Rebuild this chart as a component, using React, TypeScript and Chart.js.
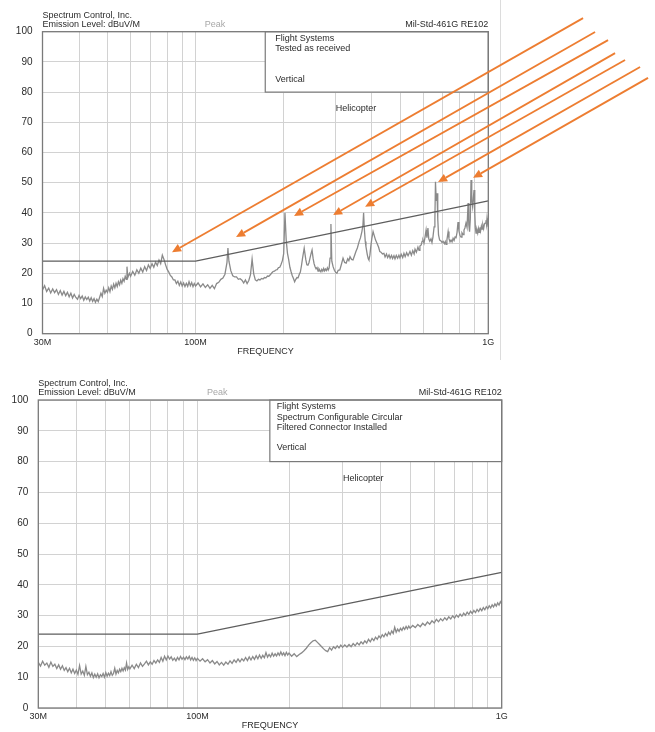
import React, { useEffect, useRef } from "react";
import { Chart, registerables } from "chart.js";

Chart.register(...registerables);

const FONT = '"Liberation Sans", Arial, Helvetica, sans-serif';

// Frequency grid (MHz) and labelled ticks
const gridFreqs = [30, 40, 50, 60, 70, 80, 90, 100, 200, 300, 400, 500, 600, 700, 800, 900, 1000];
const tickLabels: Record<number, string> = { 30: "30M", 100: "100M", 1000: "1G" };
const yTicks = [0, 10, 20, 30, 40, 50, 60, 70, 80, 90, 100];

// RE102 helicopter limit (MHz, dBuV/m)
const limitLine: [number, number][] = [[30, 24], [100, 24], [1000, 44]];

const headerLines = ["Spectrum Control, Inc.", "Emission Level: dBuV/M"];
const detectorLabel = "Peak";
const standardLabel = "Mil-Std-461G RE102";
const platformLabel = "Helicopter";
const topBoxLines = ["Flight Systems", "Tested as received", "", "", "Vertical"];
const bottomBoxLines = ["Flight Systems", "Spectrum Configurable Circular", "Filtered Connector Installed", "", "Vertical"];

// Top: tested as received (MHz, dBuV/m)
const topTrace: [number, number][] = [
  [30, 14.5], [30.5, 15.9], [31, 14.0], [31.5, 15.1], [32, 13.5], [32.5, 14.8], [33, 13.6], [33.5, 14.6], [34, 13.0], [34.5, 14.3],
  [35, 12.8], [35.5, 14.0], [36, 12.6], [36.5, 13.7], [37, 12.2], [37.5, 13.4], [38, 11.8], [38.5, 13.0], [39, 12.0], [39.5, 11.4],
  [40, 12.7], [40.5, 11.6], [41, 12.5], [41.5, 11.1], [42, 12.2], [42.5, 11.3], [43, 12.1], [43.5, 10.8], [44, 11.9], [44.5, 10.7],
  [45, 11.6], [45.5, 10.4], [46, 11.4], [46.5, 10.6], [47, 12.0], [47.5, 13.4], [48, 12.3], [48.5, 15.0], [49, 13.4], [49.5, 14.4],
  [50, 13.7], [50.5, 15.2], [51, 13.9], [51.5, 15.8], [52, 14.7], [52.5, 16.4], [53, 15.2], [53.5, 16.7], [54, 15.6], [54.5, 17.2],
  [55, 16.2], [55.5, 17.7], [56, 16.7], [56.5, 18.2], [57, 17.4], [57.5, 19.0], [58, 18.0], [58.3, 22.2], [58.7, 18.6], [59, 19.2],
  [59.5, 20.0], [60, 19.0], [61, 20.6], [62, 19.4], [63, 21.2], [64, 20.0], [65, 21.7], [66, 20.4], [67, 22.2], [68, 20.9],
  [69, 22.8], [70, 21.6], [71, 23.2], [72, 22.0], [73, 23.7], [74, 22.6], [75, 24.4], [76, 23.2], [77, 26.0], [78, 24.6],
  [79, 22.8], [80, 21.3], [81, 20.4], [82, 19.3], [83, 18.8], [84, 17.8], [85, 17.8], [86, 16.6], [87, 17.4], [88, 16.0],
  [89, 17.1], [90, 15.8], [91, 16.8], [92, 15.6], [93, 16.7], [94, 15.7], [95, 17.2], [96, 15.9], [97, 16.9], [98, 15.6],
  [99, 16.6], [100, 15.8], [102, 16.8], [104, 15.5], [106, 16.5], [108, 15.3], [110, 16.2], [112, 15.0], [114, 16.0], [116, 14.9],
  [118, 16.6], [120, 17.0], [122, 18.0], [124, 18.4], [126, 19.7], [128, 23.5], [129, 28.4], [130, 24.0], [132, 20.8], [134, 19.2],
  [136, 18.8], [138, 18.8], [140, 18.0], [142, 18.2], [144, 17.7], [146, 16.8], [148, 17.8], [150, 16.6], [152, 17.6], [154, 19.5],
  [156, 24.7], [158, 19.8], [160, 17.8], [162, 17.5], [164, 18.0], [166, 17.8], [168, 18.3], [170, 18.1], [172, 18.6], [174, 18.5],
  [176, 19.1], [178, 19.0], [180, 19.5], [182, 20.1], [184, 20.6], [186, 20.7], [188, 21.1], [190, 21.2], [192, 21.9], [194, 22.0],
  [196, 23.0], [198, 24.2], [200, 26.5], [202, 40.0], [204, 31.0], [206, 26.7], [208, 24.5], [210, 22.0], [212, 20.5], [214, 19.2],
  [216, 18.3], [218, 17.2], [220, 18.0], [222, 18.6], [224, 18.5], [226, 19.6], [228, 20.4], [230, 22.5], [232, 25.0], [235, 28.3],
  [238, 24.5], [240, 22.8], [242, 22.7], [244, 23.5], [246, 25.0], [248, 26.5], [250, 27.7], [252, 25.0], [254, 23.2], [256, 22.2],
  [258, 21.5], [260, 21.9], [262, 20.7], [264, 21.5], [266, 21.0], [268, 20.5], [270, 21.3], [272, 20.7], [274, 21.6], [276, 20.8],
  [278, 21.4], [280, 20.9], [282, 21.8], [284, 21.1], [286, 21.8], [288, 25.0], [290, 36.3], [292, 24.0], [295, 22.2], [298, 21.0],
  [301, 20.3], [304, 20.0], [307, 21.0], [311, 21.1], [315, 23.0], [319, 25.0], [323, 23.6], [327, 23.4], [331, 24.8], [334, 24.2],
  [337, 25.5], [341, 24.6], [345, 24.4], [349, 25.8], [353, 27.2], [357, 28.4], [362, 30.5], [366, 31.8], [370, 33.8], [373, 36.0],
  [375, 40.0], [377, 35.0], [380, 30.5], [382, 28.8], [386, 26.2], [389, 24.8], [391, 24.4], [394, 26.0], [397, 29.0], [400, 31.5],
  [404, 33.8], [408, 32.4], [412, 31.0], [417, 29.9], [422, 28.6], [426, 27.2], [430, 27.0], [435, 26.4], [440, 26.6], [444, 25.4],
  [449, 26.4], [453, 25.2], [458, 26.1], [462, 25.0], [467, 25.9], [471, 24.9], [476, 25.8], [480, 24.8], [485, 25.9], [490, 25.0],
  [495, 26.0], [499, 25.1], [504, 26.3], [510, 25.2], [515, 26.6], [520, 25.5], [526, 26.8], [532, 25.8], [540, 27.2], [546, 26.0],
  [552, 27.5], [558, 26.4], [562, 28.0], [568, 27.0], [575, 28.7], [580, 27.6], [584, 29.0], [590, 29.4], [594, 30.6], [598, 31.0],
  [603, 30.0], [608, 32.0], [613, 34.3], [617, 31.8], [622, 35.0], [626, 31.4], [631, 30.6], [637, 31.4], [642, 30.2], [647, 32.0],
  [653, 35.4], [657, 38.0], [660, 50.3], [664, 44.0], [668, 46.5], [672, 38.0], [676, 32.7], [682, 31.0], [688, 30.8], [695, 30.2],
  [701, 30.6], [708, 29.8], [713, 30.5], [717, 29.6], [722, 31.0], [729, 33.8], [734, 31.5], [740, 30.4], [746, 31.0], [752, 30.4],
  [758, 31.6], [764, 30.9], [770, 32.0], [776, 31.8], [782, 33.5], [788, 37.0], [794, 34.0], [800, 32.6], [807, 32.0], [813, 33.4],
  [820, 32.8], [826, 34.3], [832, 35.0], [839, 36.6], [846, 35.2], [853, 43.3], [858, 36.0], [863, 33.8], [868, 38.0], [873, 50.9],
  [878, 44.0], [884, 42.0], [889, 45.0], [894, 47.6], [899, 40.0], [903, 35.2], [908, 33.3], [914, 34.4], [920, 33.3], [925, 34.8],
  [930, 33.6], [936, 35.2], [941, 34.0], [947, 35.6], [952, 34.6], [958, 36.0], [964, 34.8], [970, 36.4], [975, 36.6], [982, 37.6],
  [986, 36.2], [990, 38.2], [995, 36.6], [1000, 35.4],
];

// Bottom: filtered connector installed (MHz, dBuV/m)
const bottomTrace: [number, number][] = [
  [30, 14.8], [30.5, 13.6], [31, 15.2], [31.5, 13.9], [32, 14.6], [32.5, 13.2], [33, 14.9], [33.5, 13.5], [34, 14.2], [34.5, 12.8],
  [35, 14.0], [35.5, 12.6], [36, 13.7], [36.5, 12.2], [37, 13.1], [37.5, 11.8], [38, 12.9], [38.5, 11.4], [39, 12.6], [39.5, 11.2],
  [40, 12.3], [40.5, 10.9], [41, 13.8], [41.5, 11.0], [42, 12.0], [42.5, 10.6], [43, 13.5], [43.5, 10.8], [44, 11.6], [44.5, 10.3],
  [45, 11.4], [45.5, 9.9], [46, 11.0], [46.5, 10.0], [47, 11.1], [47.5, 9.8], [48, 10.8], [48.5, 10.2], [49, 11.2], [49.5, 10.0],
  [50, 11.5], [50.5, 10.3], [51, 11.3], [51.5, 10.5], [52, 11.8], [52.5, 10.6], [53, 11.2], [53.5, 12.9], [54, 11.0], [54.5, 12.2],
  [55, 11.4], [55.5, 12.6], [56, 11.8], [56.5, 12.9], [57, 12.0], [57.5, 13.1], [58, 12.3], [58.5, 14.6], [59, 12.5], [59.5, 13.4],
  [60, 12.7], [61, 13.9], [62, 12.8], [63, 14.2], [64, 13.1], [65, 14.6], [66, 13.5], [67, 14.3], [68, 15.2], [69, 14.0],
  [70, 15.0], [71, 14.2], [72, 15.4], [73, 14.6], [74, 15.6], [75, 14.8], [76, 16.4], [77, 15.2], [78, 16.8], [79, 15.6],
  [80, 16.9], [81, 15.9], [82, 16.6], [83, 15.5], [84, 16.2], [85, 15.3], [86, 16.4], [87, 15.6], [88, 16.7], [89, 15.8],
  [90, 16.5], [91, 15.7], [92, 16.6], [93, 15.9], [94, 16.8], [95, 15.6], [96, 16.4], [97, 15.5], [98, 16.3], [99, 15.4],
  [100, 16.1], [102, 15.2], [104, 16.0], [106, 15.0], [108, 15.7], [110, 14.6], [112, 15.4], [114, 14.3], [116, 15.1], [118, 14.0],
  [120, 14.8], [122, 13.9], [124, 14.9], [126, 14.2], [128, 15.3], [130, 14.5], [132, 15.6], [134, 14.8], [136, 15.9], [138, 15.0],
  [140, 16.0], [142, 15.3], [144, 16.4], [146, 15.4], [148, 16.6], [150, 15.6], [152, 16.7], [154, 15.8], [156, 17.0], [158, 16.0],
  [160, 17.2], [162, 16.1], [164, 17.1], [166, 16.3], [168, 18.0], [170, 16.5], [172, 17.4], [174, 16.6], [176, 17.8], [178, 16.8],
  [180, 17.6], [182, 16.9], [184, 17.9], [186, 17.1], [188, 18.2], [190, 17.2], [192, 17.9], [194, 17.0], [196, 18.1], [198, 17.2],
  [200, 17.8], [204, 16.8], [208, 17.6], [212, 16.7], [216, 17.4], [220, 17.9], [224, 18.6], [228, 19.4], [232, 20.4], [236, 21.2],
  [240, 21.8], [244, 22.0], [248, 21.3], [252, 20.6], [256, 19.9], [260, 19.2], [264, 18.6], [268, 18.3], [272, 19.6], [276, 18.8],
  [280, 19.9], [284, 19.3], [288, 20.2], [292, 19.5], [296, 20.4], [300, 19.7], [305, 20.5], [310, 19.8], [315, 20.6], [320, 19.9],
  [325, 20.9], [330, 20.2], [335, 21.2], [340, 20.5], [345, 21.5], [350, 20.8], [355, 21.8], [360, 21.1], [365, 22.3], [370, 21.5],
  [375, 22.6], [380, 21.9], [385, 23.0], [390, 22.3], [395, 23.4], [400, 22.7], [405, 23.8], [410, 23.1], [415, 24.2], [420, 23.4],
  [425, 24.6], [430, 23.8], [435, 25.0], [440, 24.2], [445, 26.2], [450, 24.6], [455, 25.6], [460, 24.9], [465, 25.9], [470, 25.2],
  [475, 26.2], [480, 25.5], [485, 26.5], [490, 25.7], [495, 26.6], [500, 25.9], [510, 26.8], [520, 26.1], [530, 27.1], [540, 26.4],
  [550, 27.5], [560, 26.8], [570, 27.9], [580, 27.2], [590, 28.3], [600, 27.6], [610, 28.8], [620, 28.0], [630, 29.0], [640, 28.3],
  [650, 29.3], [660, 28.6], [670, 29.6], [680, 28.9], [690, 29.9], [700, 29.2], [710, 30.2], [720, 29.5], [730, 30.5], [740, 29.8],
  [750, 30.8], [760, 30.1], [770, 31.1], [780, 30.4], [790, 31.4], [800, 30.7], [810, 31.7], [820, 31.0], [830, 32.0], [840, 31.3],
  [850, 32.3], [860, 31.6], [870, 32.6], [880, 31.9], [890, 32.9], [900, 32.2], [910, 33.2], [920, 32.5], [930, 33.5], [940, 32.8],
  [950, 33.8], [960, 33.1], [970, 34.1], [980, 33.4], [990, 34.5], [1000, 33.8],
];

// Annotation arrows on the top chart: tail and head in (MHz, dBuV/m)
const topArrows: { from: [number, number]; to: [number, number] }[] = [
  { from: [2107, 104.5], to: [83.1, 27.0] },
  { from: [2316, 99.9], to: [137.5, 32.0] },
  { from: [2565, 97.2], to: [217, 39.0] },
  { from: [2711, 92.9], to: [295, 39.3] },
  { from: [2932, 90.6], to: [379.5, 42.0] },
  { from: [3300, 88.3], to: [673.5, 50.2] },
  { from: [3513, 84.7], to: [887, 51.6] },
];

const boxLeftFreq = 173;
const boxBottomLevel = 80;
const peakLabelFreq = 107.5;
const platformFreq = 300;

type Area = { left: number; right: number; top: number; bottom: number };

type PanelCfg = {
  width: number;
  height: number;
  area: Area;
  trace: [number, number][];
  boxLines: string[];
  boxTextDx: number;
  arrows: { from: [number, number]; to: [number, number] }[];
  titlePadBottom: number;
};

function makeOverlay(cfg: PanelCfg) {
  return {
    id: "overlay",
    afterDraw(chart: any) {
      const { ctx, chartArea: a, scales } = chart;
      const x = scales.x;
      const y = scales.y;
      ctx.save();
      const font9 = `9px ${FONT}`;
      // legend box
      const bx1 = x.getPixelForValue(boxLeftFreq);
      const by2 = y.getPixelForValue(boxBottomLevel);
      ctx.fillStyle = "#ffffff";
      ctx.fillRect(bx1, a.top, a.right - bx1, by2 - a.top);
      ctx.strokeStyle = "#7a7a7a";
      ctx.lineWidth = 1.2;
      ctx.strokeRect(bx1, a.top, a.right - bx1, by2 - a.top);
      // frame
      ctx.strokeStyle = "#7a7a7a";
      ctx.lineWidth = 1.3;
      ctx.strokeRect(a.left, a.top, a.right - a.left, a.bottom - a.top);
      // header texts
      ctx.font = font9;
      ctx.textBaseline = "middle";
      ctx.textAlign = "left";
      ctx.fillStyle = "#2b2b2b";
      ctx.fillText(headerLines[0], a.left, a.top - 16.5);
      ctx.fillText(headerLines[1], a.left, a.top - 7);
      ctx.fillStyle = "#a8a8a8";
      ctx.fillText(detectorLabel, x.getPixelForValue(peakLabelFreq), a.top - 7);
      ctx.fillStyle = "#2b2b2b";
      ctx.textAlign = "right";
      ctx.fillText(standardLabel, a.right, a.top - 7);
      // box text
      ctx.textAlign = "left";
      cfg.boxLines.forEach((t, i) => {
        if (t) ctx.fillText(t, bx1 + cfg.boxTextDx, a.top + 7 + i * 10.2);
      });
      // platform label
      ctx.fillText(platformLabel, x.getPixelForValue(platformFreq) + 0.5, by2 + 16.8);
      // arrows
      ctx.strokeStyle = "#ED7D31";
      ctx.fillStyle = "#ED7D31";
      ctx.lineWidth = 1.8;
      for (const ar of cfg.arrows) {
        const x1 = x.getPixelForValue(ar.from[0]);
        const y1 = y.getPixelForValue(ar.from[1]);
        const x2 = x.getPixelForValue(ar.to[0]);
        const y2 = y.getPixelForValue(ar.to[1]);
        const ang = Math.atan2(y2 - y1, x2 - x1);
        const hl = 9;
        const hw = 4.2;
        const bx = x2 - hl * Math.cos(ang);
        const byy = y2 - hl * Math.sin(ang);
        ctx.beginPath();
        ctx.moveTo(x1, y1);
        ctx.lineTo(bx, byy);
        ctx.stroke();
        ctx.beginPath();
        ctx.moveTo(x2, y2);
        ctx.lineTo(bx + hw * Math.sin(ang), byy - hw * Math.cos(ang));
        ctx.lineTo(bx - hw * Math.sin(ang), byy + hw * Math.cos(ang));
        ctx.closePath();
        ctx.fill();
      }
      ctx.restore();
    },
  };
}

function buildChart(canvas: HTMLCanvasElement, cfg: PanelCfg) {
  const { area } = cfg;
  return new Chart(canvas, {
    type: "line",
    data: {
      datasets: [
        {
          label: "Limit",
          data: limitLine.map(([f, v]) => ({ x: f, y: v })),
          borderColor: "#5e5e5e",
          borderWidth: 1.3,
          pointRadius: 0,
          tension: 0,
          order: 1,
        },
        {
          label: "Peak",
          data: cfg.trace.map(([f, v]) => ({ x: f, y: v })),
          borderColor: "#8a8a8a",
          borderWidth: 1.3,
          pointRadius: 0,
          tension: 0,
          order: 2,
        },
      ],
    },
    options: {
      animation: false,
      responsive: false,
      maintainAspectRatio: false,
      events: [],
      layout: { padding: { left: 0, top: area.top, right: cfg.width - area.right, bottom: 0 } },
      plugins: { legend: { display: false }, tooltip: { enabled: false }, title: { display: false } },
      scales: {
        x: {
          type: "logarithmic",
          min: 30,
          max: 1000,
          afterBuildTicks: (s: any) => {
            s.ticks = gridFreqs.map((v) => ({ value: v }));
          },
          afterFit: (s: any) => {
            s.height = cfg.height - area.bottom;
          },
          ticks: {
            autoSkip: false,
            maxRotation: 0,
            minRotation: 0,
            padding: 3,
            color: "#2b2b2b",
            font: { size: 9, family: FONT },
            callback: (v: any) => tickLabels[Number(v)] ?? "",
          },
          grid: { color: "#d2d2d2", lineWidth: 1, drawTicks: false },
          border: { display: false },
          title: {
            display: true,
            text: "FREQUENCY",
            color: "#2b2b2b",
            font: { size: 9, family: FONT },
            padding: { top: 0, bottom: cfg.titlePadBottom },
          },
        },
        y: {
          type: "linear",
          min: 0,
          max: 100,
          afterBuildTicks: (s: any) => {
            s.ticks = yTicks.map((v) => ({ value: v }));
          },
          afterFit: (s: any) => {
            s.width = area.left;
          },
          ticks: { padding: 10, color: "#2b2b2b", font: { size: 10, family: FONT } },
          grid: { color: "#d2d2d2", lineWidth: 1, drawTicks: false },
          border: { display: false },
        },
      },
    } as any,
    plugins: [makeOverlay(cfg) as any],
  });
}

const topCfg: PanelCfg = {
  width: 655,
  height: 365,
  area: { left: 42.5, right: 488.3, top: 31.7, bottom: 333.7 },
  trace: topTrace,
  boxLines: topBoxLines,
  boxTextDx: 10,
  arrows: topArrows,
  titlePadBottom: 7.6,
};

const bottomCfg: PanelCfg = {
  width: 655,
  height: 367,
  area: { left: 38.3, right: 501.7, top: 35, bottom: 343 },
  trace: bottomTrace,
  boxLines: bottomBoxLines,
  boxTextDx: 7,
  arrows: [],
  titlePadBottom: 0.6,
};

export default function App() {
  const topRef = useRef<HTMLCanvasElement>(null);
  const botRef = useRef<HTMLCanvasElement>(null);

  useEffect(() => {
    const c1 = topRef.current ? buildChart(topRef.current, topCfg) : null;
    const c2 = botRef.current ? buildChart(botRef.current, bottomCfg) : null;
    return () => {
      c1?.destroy();
      c2?.destroy();
    };
  }, []);

  return (
    <div style={{ position: "absolute", left: 0, top: 0, width: 655, height: 732, background: "#ffffff", overflow: "hidden" }}>
      <div style={{ position: "absolute", left: 500, top: 0, width: 1, height: 360, background: "#dcdcdc" }} />
      <canvas ref={topRef} width={655} height={365} style={{ position: "absolute", left: 0, top: 0 }} />
      <canvas ref={botRef} width={655} height={367} style={{ position: "absolute", left: 0, top: 365 }} />
    </div>
  );
}
